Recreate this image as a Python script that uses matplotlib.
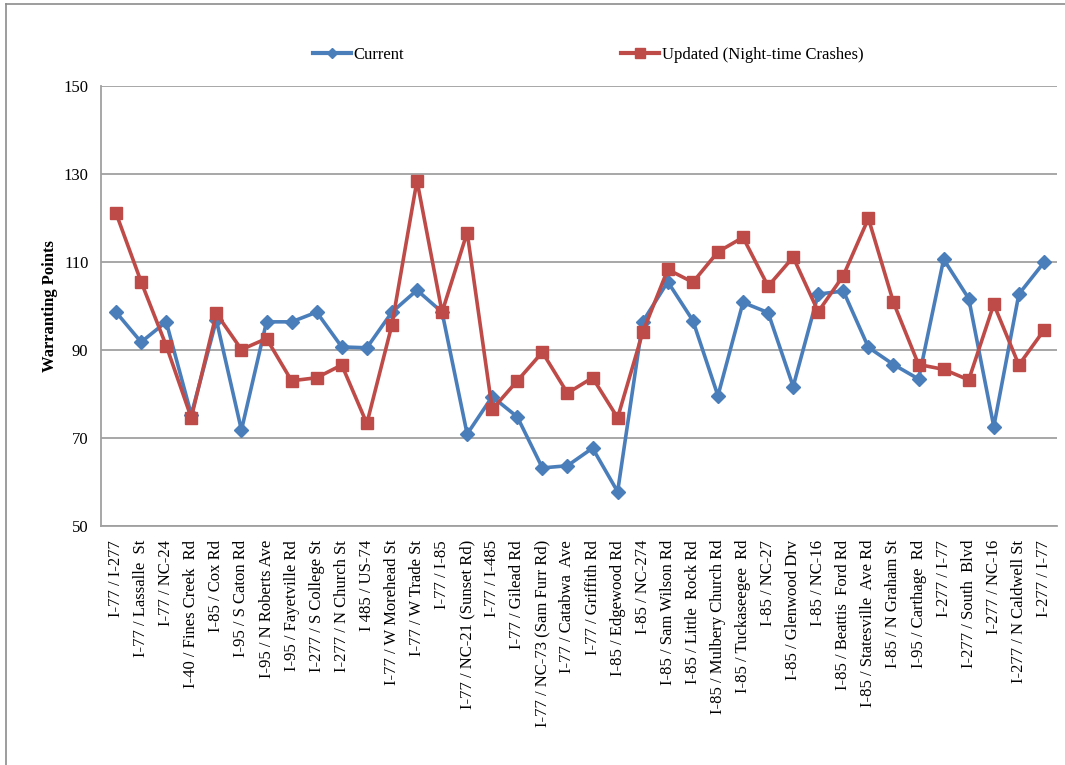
import matplotlib
matplotlib.use("Agg")
import matplotlib.pyplot as plt
from matplotlib.lines import Line2D

plt.rcParams['font.family'] = ['Liberation Serif', 'DejaVu Serif']

interchanges = [
    "I-77 / I-277", "I-77 / Lassalle  St", "I-77 / NC-24", "I-40 / Fines Creek  Rd",
    "I-85 / Cox Rd", "I-95 / S Caton Rd", "I-95 / N Roberts Ave", "I-95 / Fayetville Rd",
    "I-277 / S College St", "I-277 / N Church St", "I 485 / US-74", "I-77 / W Morehead St",
    "I-77 / W Trade St", "I-77 / I-85", "I-77 / NC-21 (Sunset Rd)", "I-77 / I-485",
    "I-77 / Gilead Rd", "I-77 / NC-73 (Sam Furr Rd)", "I-77 / Catabwa  Ave",
    "I-77 / Griffith Rd", "I-85 / Edgewood Rd", "I-85 / NC-274", "I-85 / Sam Wilson Rd",
    "I-85 / Little  Rock Rd", "I-85 / Mulbery Church Rd", "I-85 / Tuckaseegee  Rd",
    "I-85 / NC-27", "I-85 / Glenwood Drv", "I-85 / NC-16", "I-85 / Beattis  Ford Rd",
    "I-85 / Statesville  Ave Rd", "I-85 / N Graham St", "I-95 / Carthage  Rd",
    "I-277 / I-77", "I-277 / South  Blvd", "I-277 / NC-16", "I-277 / N Caldwell St",
    "I-277 / I-77",
]

current = [
    98.6, 91.8, 96.4, 75.3, 96.8, 71.8, 96.4, 96.4, 98.6, 90.7,
    90.5, 98.6, 103.6, 98.6, 70.9, 79.4, 74.8, 63.2, 63.7, 67.7,
    57.8, 96.4, 105.5, 96.7, 79.6, 100.8, 98.5, 81.7, 102.7, 103.4,
    90.6, 86.7, 83.4, 110.6, 101.7, 72.6, 102.7, 109.9,
]

updated = [
    121.1, 105.5, 91.0, 74.6, 98.3, 90.1, 92.6, 83.0, 83.7, 86.6,
    73.3, 95.7, 128.5, 98.6, 116.7, 76.5, 83.0, 89.5, 80.2, 83.7,
    74.6, 94.0, 108.3, 105.4, 112.3, 115.6, 104.5, 111.1, 98.7, 106.9,
    119.9, 100.8, 86.7, 85.6, 83.2, 100.4, 86.6, 94.5,
]

y_ticks = [50, 70, 90, 110, 130, 150]

BLUE = "#4A7EBB"
RED = "#BE4B48"
GRID = "#A0A0A0"

W, H = 1065, 765
fig = plt.figure(figsize=(W / 100, H / 100), dpi=100)
ax = fig.add_axes([101 / W, 1 - 526 / H, (1057 - 101) / W, (526 - 86) / H])

x = list(range(len(interchanges)))
ax.plot(x, current, color=BLUE, lw=2.6, marker="D", ms=7,
        markeredgecolor=BLUE, markerfacecolor=BLUE, zorder=3, label="Current")
ax.plot(x, updated, color=RED, lw=2.6, marker="s", ms=9,
        markeredgecolor=RED, markerfacecolor=RED, zorder=3,
        label="Updated (Night-time Crashes)")

ax.set_xlim(-0.6, len(interchanges) - 0.48)
ax.set_ylim(50, 150)
ax.set_yticks(y_ticks)
ax.set_yticklabels([str(v) for v in y_ticks], fontsize=12)
ax.set_xticks(x)
ax.set_xticklabels(interchanges, rotation=90, fontsize=12, va="top", ha="center")
ax.tick_params(axis="x", length=0, pad=10)
ax.tick_params(axis="y", length=0, pad=9)

ax.grid(axis="y", color=GRID, lw=1.3, zorder=1)
ax.set_axisbelow(True)
for side in ("top", "right"):
    ax.spines[side].set_visible(False)
for side in ("left", "bottom"):
    ax.spines[side].set_color(GRID)
    ax.spines[side].set_linewidth(1.3)

ax.set_ylabel("Warranting Points", fontsize=12, fontweight="bold", labelpad=4)

handles = [
    Line2D([], [], color=BLUE, lw=3, marker="D", ms=5, markeredgecolor=BLUE),
    Line2D([], [], color=RED, lw=3, marker="s", ms=7, markeredgecolor=RED),
]
fig.legend(handles, ["Current", "Updated (Night-time Crashes)"], ncol=2,
           loc="center", bbox_to_anchor=(588 / W, 1 - 55 / H), frameon=False,
           fontsize=12, handlelength=2.3, handletextpad=0.15,
           columnspacing=13.0)

# outer frame around the chart area
fig.add_artist(Line2D([6 / W, 6 / W], [0, 1 - 4 / H], color="#8C8C8C", lw=1.2,
                      transform=fig.transFigure))
fig.add_artist(Line2D([6 / W, 1], [1 - 4 / H, 1 - 4 / H], color="#8C8C8C", lw=1.2,
                      transform=fig.transFigure))

fig.savefig("out.png", dpi=100)
